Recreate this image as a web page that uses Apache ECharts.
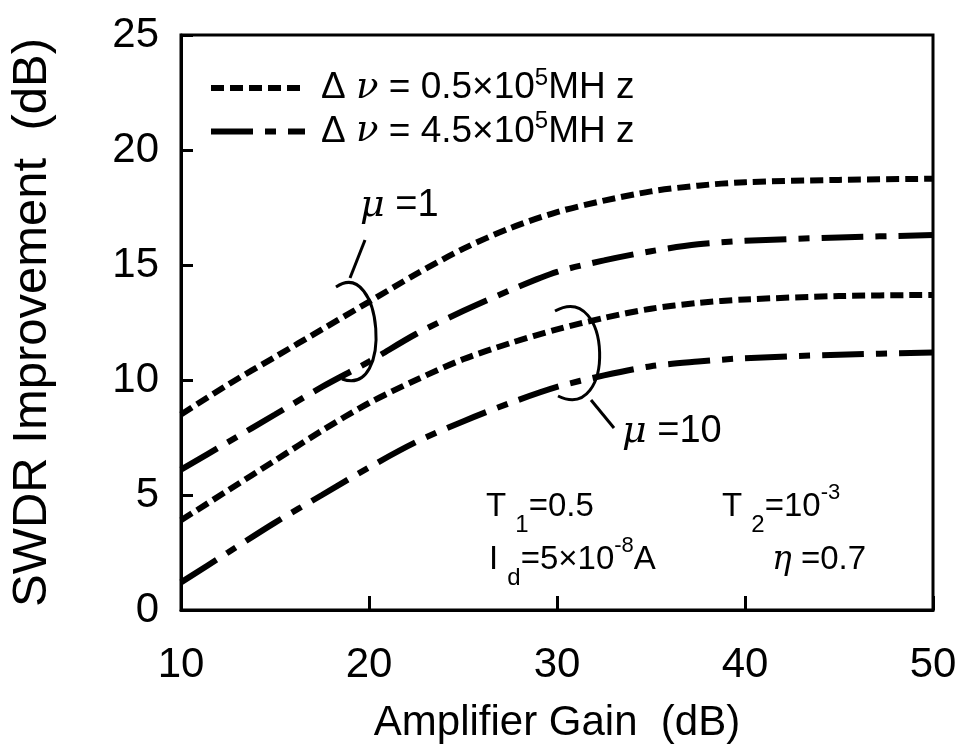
<!DOCTYPE html>
<html>
<head>
<meta charset="utf-8">
<script src="https://cdn.jsdelivr.net/npm/echarts@6/dist/echarts.min.js"></script>
<style>
  html, body { margin: 0; padding: 0; background: #fff; }
  #chart { width: 963px; height: 753px; }
</style>
</head>
<body>
<div id="chart"></div>
<script>
// amplifier gain (dB)
const gain = [10, 12.5, 15, 17.5, 20, 22.5, 25, 27.5, 30, 32.5, 35, 37.5, 40, 45, 50];

// SWDR improvement (dB)
const mu1Narrow  = [8.5, 9.8, 11.0, 12.2, 13.4, 14.6, 15.7, 16.6, 17.3, 17.8, 18.2, 18.45, 18.6, 18.7, 18.75];
const mu1Wide    = [6.1, 7.3, 8.5, 9.7, 10.8, 12.0, 13.0, 13.9, 14.7, 15.2, 15.6, 15.9, 16.05, 16.2, 16.3];
const mu10Narrow = [3.9, 5.2, 6.5, 7.8, 9.0, 10.0, 10.9, 11.6, 12.2, 12.7, 13.1, 13.35, 13.5, 13.65, 13.7];
const mu10Wide   = [1.2, 2.5, 3.8, 5.0, 6.2, 7.3, 8.2, 9.0, 9.7, 10.2, 10.6, 10.8, 10.95, 11.1, 11.2];

const xTicks = [10, 20, 30, 40, 50];
const yTicks = [0, 5, 10, 15, 20, 25];

const NARROW = 'Δν = 0.5×10^5 MHz';
const WIDE = 'Δν = 4.5×10^5 MHz';

const font = '"Liberation Sans", Arial, sans-serif';
const greek = '"DejaVu Serif", "Liberation Serif", serif';
const dotted = [13, 6];
const dashDot = [42, 12, 11, 12];

const pairs = (ys) => gain.map((g, i) => [g, ys[i]]);

function curve(name, ys, dash) {
    return {
        name,
        type: 'line',
        data: pairs(ys),
        smooth: 0.3,
        symbol: 'none',
        silent: true,
        color: '#000',
        lineStyle: { color: '#000', width: 6, type: dash, cap: 'butt' },
    };
}

// rich text styles for labels with sub/superscripts (line box 60 px)
function paramRich(size) {
    return {
        t: { fontSize: size, fontFamily: font, color: '#000', lineHeight: 60, verticalAlign: 'middle' },
        g: { fontSize: size, fontFamily: greek, fontStyle: 'italic', color: '#000', lineHeight: 60, verticalAlign: 'middle' },
        sub: { fontSize: 24, fontFamily: font, color: '#000', verticalAlign: 'bottom' },
        sup: { fontSize: 22, fontFamily: font, color: '#000', verticalAlign: 'top', padding: [5, 0, 0, 0] },
    };
}

const chart = echarts.init(document.getElementById('chart'), null, { renderer: 'canvas' });

chart.setOption({
    backgroundColor: '#fff',
    animation: false,
    textStyle: { fontFamily: font, color: '#000' },
    grid: {
        left: 166, right: 30, top: 35, bottom: 143,
        show: true, borderColor: '#000', borderWidth: 3, backgroundColor: 'transparent',
    },
    legend: {
        left: 203, top: 61, orient: 'vertical', itemWidth: 94, itemHeight: 14, itemGap: 3,
        data: [NARROW, WIDE],
        itemStyle: { opacity: 0 },
        lineStyle: { width: 6 },
        formatter: (name) => name === NARROW
            ? '{t|Δ }{g|ν}{t| = 0.5×10}{sup|5}{t|MH z}'
            : '{t|Δ }{g|ν}{t| = 4.5×10}{sup|5}{t|MH z}',
        textStyle: {
            fontFamily: font, color: '#000', padding: [0, 0, 0, 11],
            rich: {
                t: { fontSize: 37, fontFamily: font, color: '#000', lineHeight: 44, verticalAlign: 'middle' },
                g: { fontSize: 37, fontFamily: greek, fontStyle: 'italic', color: '#000', lineHeight: 44, verticalAlign: 'middle' },
                sup: { fontSize: 24, fontFamily: font, color: '#000', verticalAlign: 'top' },
            },
        },
    },
    xAxis: {
        type: 'value', min: xTicks[0], max: xTicks[xTicks.length - 1], interval: 10,
        name: 'Amplifier Gain  (dB)', nameLocation: 'middle', nameGap: 92,
        nameTextStyle: { fontSize: 42, fontFamily: font, color: '#000' },
        axisLine: { lineStyle: { color: '#000', width: 3 } },
        axisTick: { inside: true, length: 14, lineStyle: { color: '#000', width: 3 } },
        axisLabel: { fontSize: 42, margin: 34, color: '#000', fontFamily: font },
        splitLine: { show: false },
    },
    yAxis: {
        type: 'value', min: yTicks[0], max: yTicks[yTicks.length - 1], interval: 5,
        name: 'SWDR Improvement  (dB)', nameLocation: 'middle', nameGap: 124,
        nameTextStyle: { fontSize: 49, fontFamily: font, color: '#000' },
        axisLine: { lineStyle: { color: '#000', width: 3 } },
        axisTick: { inside: true, length: 12, lineStyle: { color: '#000', width: 3 } },
        axisLabel: { fontSize: 42, margin: 22, color: '#000', fontFamily: font },
        splitLine: { show: false },
    },
    series: [
        curve(NARROW, mu1Narrow, dotted),
        curve(WIDE, mu1Wide, dashDot),
        curve(NARROW, mu10Narrow, dotted),
        curve(WIDE, mu10Wide, dashDot),
    ],
    graphic: [
        // bracket grouping the mu = 1 curves
        { type: 'bezierCurve', shape: { x1: 336, y1: 287, cpx1: 382, cpy1: 256, cpx2: 394, cpy2: 398, x2: 342, y2: 379 },
          style: { stroke: '#000', lineWidth: 3, fill: null } },
        { type: 'line', shape: { x1: 350, y1: 278, x2: 365, y2: 240 }, style: { stroke: '#000', lineWidth: 3 } },
        { type: 'text', x: 360, y: 206,
          style: { text: '{g|μ}{t| =1}', textVerticalAlign: 'middle', rich: {
              g: { fontSize: 38, fontStyle: 'italic', fontFamily: greek }, t: { fontSize: 38, fontFamily: font } } } },
        // bracket grouping the mu = 10 curves
        { type: 'bezierCurve', shape: { x1: 555, y1: 311, cpx1: 612, cpy1: 280, cpx2: 616, cpy2: 424, x2: 558, y2: 396 },
          style: { stroke: '#000', lineWidth: 3, fill: null } },
        { type: 'line', shape: { x1: 591, y1: 400, x2: 614, y2: 428 }, style: { stroke: '#000', lineWidth: 3 } },
        { type: 'text', x: 622, y: 432,
          style: { text: '{g|μ}{t| =10}', textVerticalAlign: 'middle', rich: {
              g: { fontSize: 38, fontStyle: 'italic', fontFamily: greek }, t: { fontSize: 38, fontFamily: font } } } },
        // parameters (main text centred 30 px below top)
        { type: 'text', x: 486, y: 477,
          style: { text: '{t|T }{sub|1}{t|=0.5}', rich: paramRich(33) } },
        { type: 'text', x: 722, y: 477,
          style: { text: '{t|T }{sub|2}{t|=10}{sup|-3}', rich: paramRich(33) } },
        { type: 'text', x: 489, y: 530,
          style: { text: '{t|I }{sub|d}{t|=5×10}{sup|-8}{t|A}', rich: paramRich(33) } },
        { type: 'text', x: 772, y: 530,
          style: { text: '{g|η}{t| =0.7}', rich: paramRich(33) } },
    ],
});
</script>
</body>
</html>
